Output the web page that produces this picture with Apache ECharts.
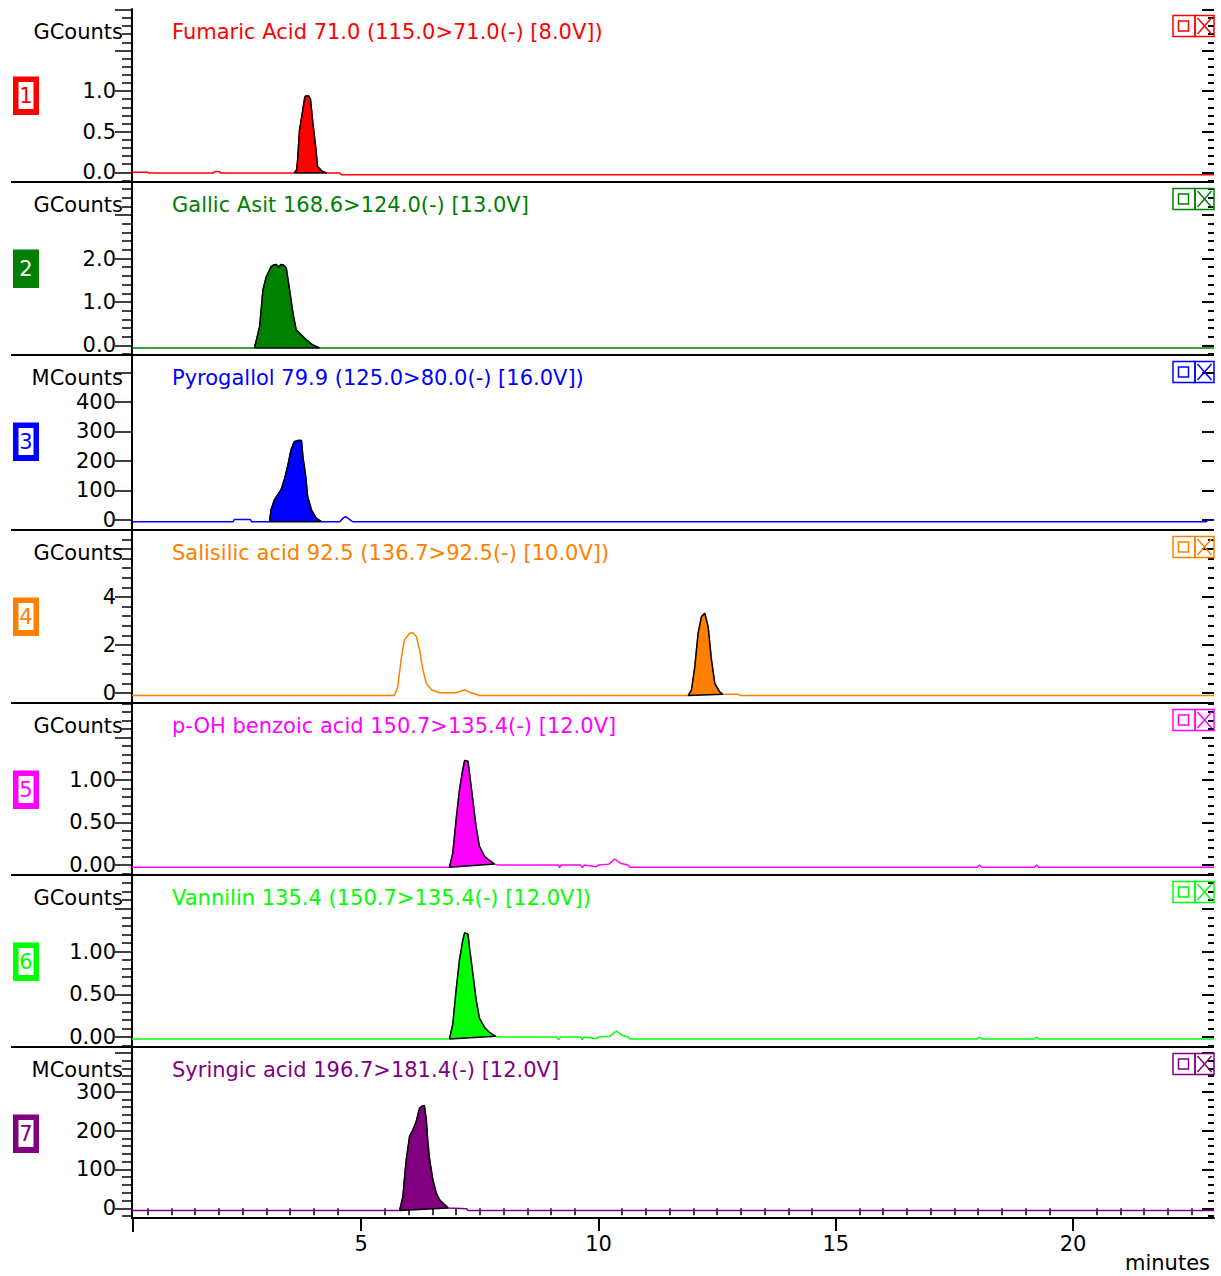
<!DOCTYPE html>
<html><head><meta charset="utf-8">
<script src="https://cdn.jsdelivr.net/npm/echarts@6/dist/echarts.min.js"></script>
<style>html,body{margin:0;padding:0;background:#fff}#chart{width:1221px;height:1276px}</style>
</head><body><div id="chart"></div>
<script>
// ---------------- data ----------------
const timeMin = 0.17, timeMax = 22.97;
const timeMajorTicks = [5, 10, 15, 20];
const timeMinorStep = 0.5;

const titles = [
  "Fumaric Acid 71.0 (115.0>71.0(-) [8.0V])",
  "Gallic Asit 168.6>124.0(-) [13.0V]",
  "Pyrogallol 79.9 (125.0>80.0(-) [16.0V])",
  "Salisilic acid 92.5 (136.7>92.5(-) [10.0V])",
  "p-OH benzoic acid 150.7>135.4(-) [12.0V]",
  "Vannilin 135.4 (150.7>135.4(-) [12.0V])",
  "Syringic acid 196.7>181.4(-) [12.0V]"
];
const unitLabels = ["GCounts","GCounts","MCounts","GCounts","GCounts","GCounts","MCounts"];
const panelNumbers = ["1","2","3","4","5","6","7"];
const yTickLabels = [[0,0.5,1.0],[0,1,2],[0,100,200,300,400],[0,2,4],[0,0.5,1.0],[0,0.5,1.0],[0,100,200,300]];
const yLabelDecimals = [1,1,0,0,2,2,0];
const yMajorStep = [0.5,1,100,2,0.5,0.5,100];
const yMinorStep = [0.1,0.2,0,0.4,0.1,0.1,20];
const yMin = [-0.12,-0.22,-34,-0.42,-0.118,-0.117,-25];
const yMax = [2.01,3.76,559,6.79,1.906,1.895,415];

const fumaricTime   = [0.17,0.50,0.52,1.88,1.92,2.00,2.04,3.59,3.64,3.66,3.70,3.76,3.81,3.83,3.89,3.93,3.98,4.04,4.08,4.16,4.27,4.55,4.58,22.97];
const fumaricSignal = [0,0,-0.01,-0.01,0.01,0.01,-0.01,-0.01,0.03,0.15,0.52,0.73,0.92,0.94,0.94,0.90,0.61,0.31,0.07,0.02,-0.01,-0.01,-0.03,-0.03];
const fumaricPeak = [7,20];

const gallicTime   = [0.17,2.75,2.86,2.93,3.00,3.10,3.15,3.21,3.26,3.31,3.36,3.42,3.49,3.56,3.63,3.74,3.84,3.98,4.12,22.97];
const gallicSignal = [-0.06,-0.06,0.43,1.28,1.58,1.81,1.85,1.86,1.80,1.86,1.85,1.78,1.28,0.75,0.36,0.24,0.13,0.01,-0.06,-0.06];
const gallicPeak = [1,18];

const pyroTime   = [0.17,2.30,2.33,2.66,2.69,3.07,3.10,3.17,3.24,3.31,3.38,3.45,3.52,3.59,3.66,3.74,3.77,3.83,3.87,3.95,4.05,4.16,4.55,4.61,4.67,4.74,4.82,22.80,22.85,22.97];
const pyroSignal = [-6,-6,2,2,-6,-6,34,68,85,102,136,181,237,265,269,269,215,147,80,34,6,-6,-6,5,11,4,-6,-6,0,0];
const pyroPeak = [5,21];

const salTime   = [0.17,5.70,5.77,5.84,5.91,6.02,6.09,6.16,6.23,6.30,6.37,6.48,6.65,7.00,7.10,7.18,7.26,7.32,7.49,11.89,11.96,12.03,12.10,12.17,12.24,12.31,12.38,12.45,12.55,12.62,12.95,12.99,22.97];
const salSignal = [-0.11,-0.11,0.26,1.38,2.21,2.49,2.51,2.35,1.79,0.96,0.40,0.13,0.01,0.01,0.07,0.13,0.05,0.01,-0.11,-0.11,0.13,1.10,2.49,3.18,3.32,2.76,1.38,0.40,0.05,-0.06,-0.06,-0.11,-0.11];
const salPeak = [19,29];

const pohTime   = [0.17,6.86,6.93,7.00,7.07,7.14,7.18,7.25,7.28,7.35,7.42,7.49,7.60,7.71,7.81,7.88,9.15,9.18,9.21,9.62,9.66,9.70,9.96,10.00,10.22,10.34,10.46,10.62,10.66,17.98,18.03,18.08,19.18,19.23,19.28,22.97];
const pohSignal = [-0.027,-0.027,0.14,0.53,0.88,1.12,1.23,1.22,1.08,0.77,0.45,0.22,0.10,0.05,0.01,0.0,0.0,-0.03,0.0,0.0,-0.03,0.0,-0.02,0.0,0.01,0.07,0.02,0.0,-0.027,-0.027,0.0,-0.027,-0.027,0.0,-0.027,-0.027];
const pohPeak = [1,14];

const vanTime   = [0.17,6.86,6.93,7.00,7.07,7.14,7.18,7.25,7.28,7.35,7.42,7.49,7.60,7.71,7.83,7.92,9.12,9.16,9.20,9.62,9.66,9.70,9.96,10.00,10.24,10.38,10.50,10.62,10.66,17.98,18.03,18.08,19.18,19.23,19.28,22.97];
const vanSignal = [-0.023,-0.023,0.15,0.55,0.90,1.13,1.22,1.20,1.05,0.75,0.44,0.22,0.11,0.05,0.01,0.0,0.0,-0.03,0.0,0.0,-0.03,0.0,-0.02,0.0,0.01,0.07,0.02,0.0,-0.023,-0.023,0.0,-0.023,-0.023,0.0,-0.023,-0.023];
const vanPeak = [1,14];

const syrTime   = [0.17,5.81,5.88,5.91,5.95,6.02,6.09,6.16,6.23,6.30,6.33,6.37,6.40,6.44,6.51,6.58,6.65,6.76,6.83,7.22,7.25,22.97];
const syrSignal = [-5.7,-5.7,30,73,125,185,202,223,258,264,264,228,176,125,73,39,22,9,0.5,-1.3,-5.7,-5.7];
const syrPeak = [1,18];

const traces = [
  [fumaricTime, fumaricSignal, fumaricPeak],
  [gallicTime, gallicSignal, gallicPeak],
  [pyroTime, pyroSignal, pyroPeak],
  [salTime, salSignal, salPeak],
  [pohTime, pohSignal, pohPeak],
  [vanTime, vanSignal, vanPeak],
  [syrTime, syrSignal, syrPeak]
];

// ---------------- layout & style ----------------
const colors = ['#FF0000','#008000','#0000FF','#FF8000','#FF00FF','#00FF00','#800080'];
const solidBox = [false,true,false,false,false,false,false];
const panelTop = [9,182,355,530,703,875,1047];
const panelBottom = [182,355,530,703,875,1047,1218];
const plotLeft = 132, plotRight = 1214;
const FONT = '"DejaVu Sans", Verdana, sans-serif';

function ticksIn(min, max, step) {
  const out = [];
  if (!step) return out;
  const s = Math.ceil(min / step - 1e-9);
  for (let k = s; k * step <= max + 1e-9; k++) out.push(+(k * step).toFixed(6));
  return out;
}
function minorsIn(min, max, step, major) {
  return ticksIn(min, max, step).filter(v => !major.some(m => Math.abs(m - v) < 1e-6));
}

const grids = [], xAxes = [], yAxes = [], series = [], graphics = [];

for (let i = 0; i < 7; i++) {
  grids.push({left: plotLeft, width: plotRight - plotLeft, top: panelTop[i], height: panelBottom[i] - panelTop[i]});
  xAxes.push({type:'value', gridIndex:i, min:timeMin, max:timeMax, show:false});

  const majors = ticksIn(yMin[i], yMax[i], yMajorStep[i]);
  const minors = minorsIn(yMin[i], yMax[i], yMinorStep[i], majors);
  const dec = yLabelDecimals[i];
  const base = {type:'value', gridIndex:i, min:yMin[i], max:yMax[i], splitLine:{show:false}};
  yAxes.push(Object.assign({}, base, {
    position:'left',
    axisLine:{show:true, onZero:false, lineStyle:{color:'#000', width:2}},
    axisTick:{show:true, inside:false, length:17, customValues:majors, lineStyle:{color:'#000', width:1.5}},
    axisLabel:{show:true, customValues:yTickLabels[i], margin:16, color:'#000', fontFamily:FONT, fontSize:21,
      formatter: v => Number(v).toFixed(dec)}
  }));
  yAxes.push(Object.assign({}, base, {
    position:'left',
    axisLine:{show:false},
    axisTick:{show:minors.length > 0, inside:false, length:10, customValues:minors.length ? minors : [yMin[i]], lineStyle:{color:'#000', width:1.5}},
    axisLabel:{show:false}
  }));
  yAxes.push(Object.assign({}, base, {
    position:'right',
    axisLine:{show:false},
    axisTick:{show:true, inside:true, length:12, customValues:majors, lineStyle:{color:'#000', width:2}},
    axisLabel:{show:false}
  }));
  yAxes.push(Object.assign({}, base, {
    position:'right',
    axisLine:{show:false},
    axisTick:{show:minors.length > 0, inside:true, length:6, customValues:minors.length ? minors : [yMin[i]], lineStyle:{color:'#000', width:2}},
    axisLabel:{show:false}
  }));

  const [t, v, pk] = traces[i];
  const pairs = t.map((tt, k) => [tt, v[k]]);
  const peak = pairs.slice(pk[0], pk[1] + 1);
  peak.push(pairs[pk[0]]);
  series.push({type:'line', xAxisIndex:i, yAxisIndex:4*i, data:pairs, symbol:'none', showSymbol:false,
    lineStyle:{color:colors[i], width:1.5}, z:2, animation:false});
  series.push({type:'line', xAxisIndex:i, yAxisIndex:4*i, data:peak, symbol:'none', showSymbol:false,
    lineStyle:{color:'#000', width:1.5}, areaStyle:{color:colors[i], opacity:1}, z:3, animation:false});

  const top = panelTop[i];
  graphics.push({type:'text', x:172, y:top+22.5, z:100, style:{text:titles[i], fill:colors[i], font:'21px ' + FONT,
    align:'left', verticalAlign:'middle', textAlign:'left', textVerticalAlign:'middle'}});
  graphics.push({type:'text', x:123, y:top+22.5, z:100, style:{text:unitLabels[i], fill:'#000', font:'21px ' + FONT,
    align:'right', verticalAlign:'middle', textAlign:'right', textVerticalAlign:'middle'}});
  graphics.push({type:'rect', z:100, shape:{x:13, y:top+67.5, width:26, height:38.5}, style:{fill:colors[i]}});
  if (!solidBox[i]) graphics.push({type:'rect', z:101, shape:{x:18.5, y:top+73, width:15, height:27}, style:{fill:'#fff'}});
  graphics.push({type:'text', x:26, y:top+87, z:102, style:{text:panelNumbers[i], fill:solidBox[i] ? '#fff' : colors[i], font:'21px ' + FONT,
    align:'center', verticalAlign:'middle', textAlign:'center', textVerticalAlign:'middle'}});
  graphics.push({type:'rect', z:100, shape:{x:1173, y:top+6.5, width:22, height:21}, style:{fill:'none', stroke:colors[i], lineWidth:1.5}});
  graphics.push({type:'rect', z:100, shape:{x:1178.5, y:top+12, width:10, height:10}, style:{fill:'none', stroke:colors[i], lineWidth:1.5}});
  graphics.push({type:'rect', z:100, shape:{x:1195, y:top+6.5, width:19, height:21}, style:{fill:'none', stroke:colors[i], lineWidth:1.5}});
  graphics.push({type:'line', z:100, shape:{x1:1197.5, y1:top+9, x2:1211.5, y2:top+25}, style:{stroke:colors[i], lineWidth:1.5}});
  graphics.push({type:'line', z:100, shape:{x1:1211.5, y1:top+9, x2:1197.5, y2:top+25}, style:{stroke:colors[i], lineWidth:1.5}});
  if (i < 6) graphics.push({type:'line', z:90, shape:{x1:11, y1:panelBottom[i], x2:plotRight, y2:panelBottom[i]}, style:{stroke:'#000', lineWidth:2}});
}

xAxes[6] = {type:'value', gridIndex:6, min:timeMin, max:timeMax, position:'bottom',
  axisLine:{show:true, onZero:false, lineStyle:{color:'#000', width:2}},
  axisTick:{show:true, length:13, customValues:timeMajorTicks, lineStyle:{color:'#000', width:2}},
  axisLabel:{show:true, customValues:timeMajorTicks, margin:15, color:'#000', fontFamily:FONT, fontSize:21},
  splitLine:{show:false}};
xAxes.push({type:'value', gridIndex:6, min:timeMin, max:timeMax, position:'bottom',
  axisLine:{show:false},
  axisTick:{show:true, length:7, customValues:minorsIn(timeMin, timeMax, timeMinorStep, timeMajorTicks), lineStyle:{color:'#000', width:1.5}},
  axisLabel:{show:false}, splitLine:{show:false}});

graphics.push({type:'line', z:90, shape:{x1:plotLeft+1, y1:1218, x2:plotLeft+1, y2:1232}, style:{stroke:'#000', lineWidth:2}});
graphics.push({type:'text', x:1210, y:1263, z:100, style:{text:'minutes', fill:'#000', font:'21px ' + FONT,
  align:'right', verticalAlign:'middle', textAlign:'right', textVerticalAlign:'middle'}});

const chart = echarts.init(document.getElementById('chart'), null, {renderer:'svg', width:1221, height:1276});
chart.setOption({
  animation:false,
  backgroundColor:'#fff',
  grid:grids, xAxis:xAxes, yAxis:yAxes, series:series, graphic:graphics
});
</script>
</body></html>
